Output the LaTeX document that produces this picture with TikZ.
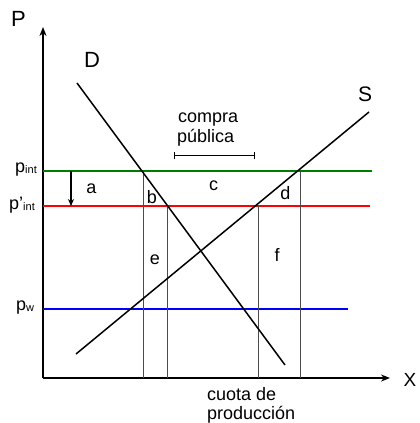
\documentclass[tikz,border=0pt]{standalone}
\usepackage{fontspec}
\setmainfont{Liberation Sans}
\usetikzlibrary{arrows.meta}
\definecolor{pgreen}{RGB}{0,125,0}
\definecolor{pred}{RGB}{255,0,0}
\definecolor{pblue}{RGB}{0,0,255}
\begin{document}
\begin{tikzpicture}[x=1pt,y=-1pt,
  lbl/.style={inner sep=0pt,font=\fontsize{18}{20}\selectfont},
  big/.style={inner sep=0pt,font=\fontsize{22}{24}\selectfont},
  axis/.style={line width=1.6pt,-{Stealth[length=9pt,width=7pt]}},
  curve/.style={line width=1.5pt},
  price/.style={line width=1.5pt},
  vert/.style={line width=0.6pt,draw=black!70},
  ]
\useasboundingbox (0,0) rectangle (420,423);
% axes
\coordinate (O) at (43,378);
\coordinate (Ytop) at (43,27);
\coordinate (Xend) at (390,378);
\draw[axis] (O) -- (Ytop);
\draw[axis] (O) -- (Xend);
\node[big] (P) at (18.5,18.5) {P};
\node[big,font=\fontsize{19}{21}\selectfont] (X) at (410,380) {X};
% price lines
\coordinate (g1) at (43,171); \coordinate (g2) at (372,171);
\coordinate (r1) at (43,206); \coordinate (r2) at (370,206);
\coordinate (b1) at (43,309); \coordinate (b2) at (348,309);
\draw[price,draw=pgreen] (g1) -- (g2);
\draw[price,draw=pred] (r1) -- (r2);
\draw[price,draw=pblue] (b1) -- (b2);
% vertical lines
\coordinate (v1t) at (143,171); \coordinate (v1b) at (143,378);
\coordinate (v2t) at (167,206); \coordinate (v2b) at (167,378);
\coordinate (v3t) at (258,206); \coordinate (v3b) at (258,378);
\coordinate (v4t) at (300,171); \coordinate (v4b) at (300,378);
\draw[vert] (v1t) -- (v1b);
\draw[vert] (v2t) -- (v2b);
\draw[vert] (v3t) -- (v3b);
\draw[vert] (v4t) -- (v4b);
% curves
\coordinate (D1) at (77,83); \coordinate (D2) at (285,365);
\coordinate (S1) at (76,354); \coordinate (S2) at (369,112);
\draw[curve] (D1) -- (D2);
\draw[curve] (S1) -- (S2);
\node[big] (Dl) at (92,60) {D};
\node[big,font=\fontsize{21}{23}\selectfont] (Sl) at (365,94) {S};
% arrow a
\coordinate (a1) at (71,171); \coordinate (a2) at (71,206);
\draw[line width=1.2pt,-{Stealth[length=7pt,width=6pt]}] (a1) -- (a2);
% price labels
\node[lbl] (pint) at (26,170) {p\raisebox{-1pt}{\fontsize{11}{11}\selectfont int}};
\node[lbl] (ppint) at (22,205) {p'\raisebox{-1pt}{\fontsize{11}{11}\selectfont int}};
\node[lbl] (pw) at (25,308) {p\raisebox{-1pt}{\fontsize{11}{11}\selectfont w}};
% area labels
\node[lbl] (la) at (91.5,189) {a};
\node[lbl] (lb) at (152,197) {b};
\node[lbl] (lc) at (213.5,186) {c};
\node[lbl] (ld) at (285.5,193.5) {d};
\node[lbl] (le) at (155,260) {e};
\node[lbl] (lf) at (277,254.5) {f};
% compra publica bracket
\coordinate (k1) at (174,155); \coordinate (k2) at (254,155);
\draw[line width=0.9pt] (k1) -- (k2);
\draw[line width=0.9pt] ([yshift=-3.5pt]k1) -- ([yshift=3.5pt]k1);
\draw[line width=0.9pt] ([yshift=-3.5pt]k2) -- ([yshift=3.5pt]k2);
\node[lbl,anchor=base west] (cp1) at (178,122) {compra};
\node[lbl,anchor=base west] (cp2) at (177,142) {pública};
% cuota
\node[lbl,anchor=base west] (cq1) at (207,400) {cuota de};
\node[lbl,anchor=base west] (cq2) at (207,419) {producción};
\end{tikzpicture}
\end{document}
